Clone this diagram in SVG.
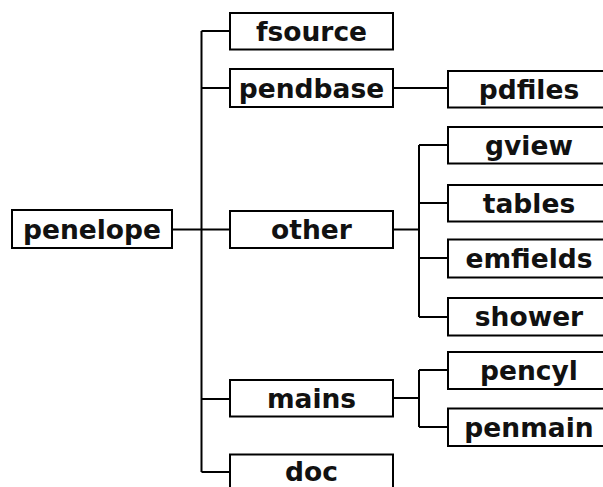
<svg xmlns="http://www.w3.org/2000/svg" width="603" height="487" viewBox="0 0 603 487">
<style>
.box{fill:#fff;stroke:#000;stroke-width:2}
.lbl{font-family:"DejaVu Sans",Verdana,sans-serif;font-weight:bold;font-size:26.5px;text-anchor:middle;fill:#111}
.con{fill:none;stroke:#000;stroke-width:2}
</style>
<rect width="603" height="487" fill="#fff"/>
<g id="connectors">
<path class="con" d="M172 229.5H230 M201.5 31V472 M201.5 31H230 M201.5 88H230 M201.5 399H230 M201.5 472H230"/>
<path class="con" d="M393 88H448"/>
<path class="con" d="M393 229.5H419 M419 145V317 M419 145H448 M419 203H448 M419 258H448 M419 317H448"/>
<path class="con" d="M393 398H419 M419 370V427 M419 370H448 M419 427H448"/>
</g>
<g id="penelope"><rect class="box" x="12" y="210" width="160" height="38"/><text class="lbl" x="92" y="238.5">penelope</text></g>
<g id="fsource"><rect class="box" x="230" y="13" width="163" height="36.5"/><text class="lbl" x="311.5" y="41">fsource</text></g>
<g id="pendbase"><rect class="box" x="230" y="69" width="163" height="38"/><text class="lbl" x="311.5" y="97.5">pendbase</text></g>
<g id="other"><rect class="box" x="230" y="211" width="163" height="37"/><text class="lbl" x="311.5" y="239">other</text></g>
<g id="mains"><rect class="box" x="230" y="380" width="163" height="36.5"/><text class="lbl" x="311.5" y="408">mains</text></g>
<g id="doc"><rect class="box" x="230" y="454.5" width="163" height="40"/><text class="lbl" x="311.5" y="481">doc</text></g>
<g id="pdfiles"><rect class="box" x="448" y="71" width="162" height="36.5"/><text class="lbl" x="529" y="98.5">pdfiles</text></g>
<g id="gview"><rect class="box" x="448" y="127" width="162" height="36.5"/><text class="lbl" x="529" y="154.5">gview</text></g>
<g id="tables"><rect class="box" x="448" y="185" width="162" height="36.5"/><text class="lbl" x="529" y="212.5">tables</text></g>
<g id="emfields"><rect class="box" x="448" y="239.5" width="162" height="38"/><text class="lbl" x="529" y="267.5">emfields</text></g>
<g id="shower"><rect class="box" x="448" y="298" width="162" height="37.5"/><text class="lbl" x="529" y="326">shower</text></g>
<g id="pencyl"><rect class="box" x="448" y="352" width="162" height="37"/><text class="lbl" x="529" y="380">pencyl</text></g>
<g id="penmain"><rect class="box" x="448" y="408.5" width="162" height="37.5"/><text class="lbl" x="529" y="436.5">penmain</text></g>
</svg>
